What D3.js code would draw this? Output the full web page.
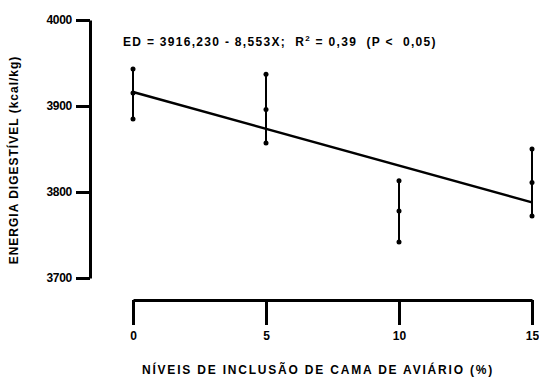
<!DOCTYPE html>
<html>
<head>
<meta charset="utf-8">
<script src="https://cdn.jsdelivr.net/npm/d3@7"></script>
<style>
  body { margin: 0; background: #fff; }
  svg text { font-family: "Liberation Sans", Arial, sans-serif; font-weight: bold; fill: #000; }
</style>
</head>
<body>
<div id="chart"></div>
<script>
// values
var levels = [0, 5, 10, 15];
var means = [3915, 3896, 3778, 3811];
var upper = [3943, 3937, 3813, 3850];
var lower = [3885, 3857, 3742, 3772];
var yTicks = [3700, 3800, 3900, 4000];
var xTicks = [0, 5, 10, 15];
var intercept = 3916.230, slope = -8.553;

var width = 539, height = 390;

var svg = d3.select("#chart").append("svg")
  .attr("width", width)
  .attr("height", height);

//scales - pixel ranges taken from the reference layout
var x = d3.scaleLinear().domain([0, 15]).range([133, 532]);
var y = d3.scaleLinear().domain([3700, 4000]).range([278, 20]);

//y axis
var yAxis = svg.append("g")
  .attr("transform", "translate(90,0)")
  .call(d3.axisLeft(y).tickValues(yTicks).tickSize(14).tickSizeOuter(0).tickPadding(4).tickFormat(d3.format("d")));
yAxis.select(".domain").attr("stroke-width", 3).attr("stroke", "#000");
yAxis.selectAll(".tick line").attr("stroke-width", 3).attr("stroke", "#000");
yAxis.selectAll(".tick text").style("font-size", "12px").style("letter-spacing", "-0.3px");

//x axis sits below the plot, detached
var xAxis = svg.append("g")
  .attr("transform", "translate(0,300)")
  .call(d3.axisBottom(x).tickValues(xTicks).tickSize(25).tickSizeOuter(0).tickPadding(6));
xAxis.select(".domain").attr("stroke-width", 3).attr("stroke", "#000");
xAxis.selectAll(".tick line").attr("stroke-width", 3).attr("stroke", "#000");
xAxis.selectAll(".tick text").style("font-size", "12px");

//regression line
var fit = d3.line()
  .x(function(d){ return x(d); })
  .y(function(d){ return y(intercept + slope * d); });
svg.append("path")
  .datum([0, 15])
  .attr("fill", "none")
  .attr("stroke", "#000")
  .attr("stroke-width", 2.5)
  .attr("d", fit);

//error bars
var bars = svg.append("g").selectAll("g")
  .data(levels.map(function(l, i){ return {x: l, m: means[i], hi: upper[i], lo: lower[i]}; }))
  .enter().append("g");

bars.append("line")
  .attr("x1", function(d){ return x(d.x); })
  .attr("x2", function(d){ return x(d.x); })
  .attr("y1", function(d){ return y(d.hi); })
  .attr("y2", function(d){ return y(d.lo); })
  .attr("stroke", "#000")
  .attr("stroke-width", 2);

["hi", "m", "lo"].forEach(function(k){
  bars.append("circle")
    .attr("cx", function(d){ return x(d.x); })
    .attr("cy", function(d){ return y(d[k]); })
    .attr("r", 2.5)
    .attr("fill", "#000");
});

//equation
var eq = svg.append("text")
  .attr("x", 123)
  .attr("y", 46)
  .style("font-size", "12px")
  .style("letter-spacing", "1.3px")
  .attr("xml:space", "preserve")
  .style("white-space", "pre");
eq.append("tspan").text("ED = 3916,230 - 8,553X;  R");
eq.append("tspan").attr("dy", -5).style("font-size", "8px").text("2");
eq.append("tspan").attr("dy", 5).text(" = 0,39  (P <  0,05)");

//axis titles
svg.append("text")
  .attr("transform", "translate(18,160) rotate(-90)")
  .style("text-anchor", "middle")
  .style("font-size", "12px")
  .style("letter-spacing", "1px")
  .text("ENERGIA DIGESTÍVEL (kcal/kg)");

svg.append("text")
  .attr("x", 318)
  .attr("y", 374)
  .style("text-anchor", "middle")
  .style("font-size", "12px")
  .style("letter-spacing", "1.8px")
  .text("NÍVEIS DE INCLUSÃO DE CAMA DE AVIÁRIO (%)");
</script>
</body>
</html>
